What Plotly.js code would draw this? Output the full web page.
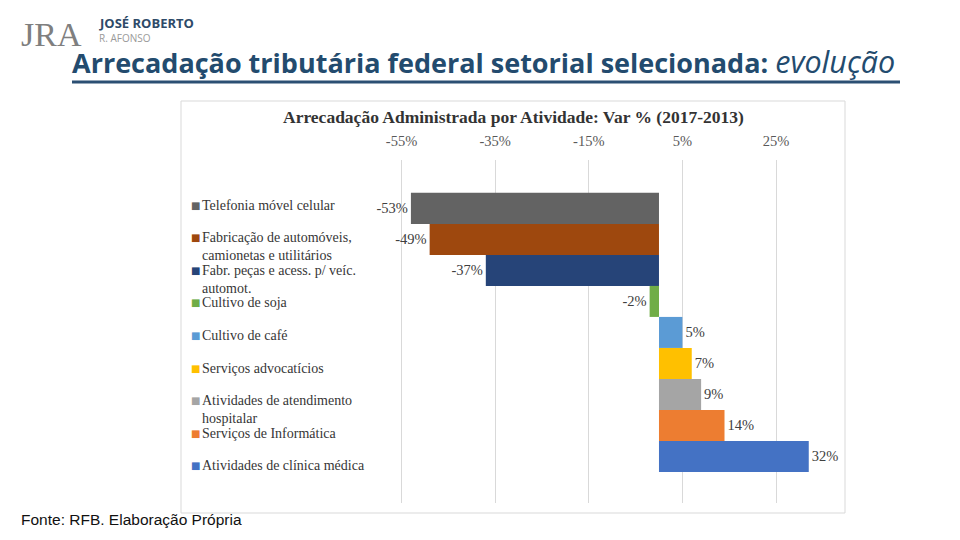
<!DOCTYPE html>
<html>
<head>
<meta charset="utf-8">
<script src="https://cdn.plot.ly/plotly-3.0.1.min.js"></script>
<style>html,body{margin:0;padding:0;background:#fff}#chart{width:960px;height:540px}</style>
</head>
<body>
<div id="chart"></div>
<script>
// ---- data ----
const categories = [
  "Telefonia móvel celular",
  "Fabricação de automóveis,<br>camionetas e utilitários",
  "Fabr. peças e acess. p/ veíc.<br>automot.",
  "Cultivo de soja",
  "Cultivo de café",
  "Serviços advocatícios",
  "Atividades de atendimento<br>hospitalar",
  "Serviços de Informática",
  "Atividades de clínica médica"
];
const values = [-53, -49, -37, -2, 5, 7, 9, 14, 32];
const colors = ["#636363", "#9e480e", "#264478", "#70ad47", "#5b9bd5", "#ffc000", "#a5a5a5", "#ed7d31", "#4472c4"];
const tickVals = [-55, -35, -15, 5, 25];
const slideTitle = 'Arrecadação tributária federal setorial selecionada: <span style="font-weight:normal;font-style:italic;font-size:30.5px">evolução</span>';
const chartTitle = "Arrecadação Administrada por Atividade: Var % (2017-2013)";
const sourceNote = "Fonte: RFB. Elaboração Própria";

// ---- helpers (page pixel -> paper) ----
const W = 960, H = 540;
const px = v => v / W, py = v => 1 - v / H;

const traces = categories.map((c, i) => ({
  type: "bar",
  orientation: "h",
  name: c,
  y: [i],
  x: [values[i]],
  width: 1,
  marker: {color: colors[i], line: {width: 0}},
  text: [values[i] + "%"],
  textposition: "outside",
  constraintext: "none",
  cliponaxis: false,
  textfont: {family: "Liberation Serif, serif", size: 14.5, color: "#404040"},
  hoverinfo: "skip",
  showlegend: false
}));

const annotations = [];
// legend (Excel-style: fixed spacing)
categories.forEach((c, i) => {
  const yc = 205 + 32.6 * i;
  annotations.push({
    xref: "paper", yref: "paper", x: px(189), y: py(yc), xanchor: "left", yanchor: "middle",
    text: "■", showarrow: false, font: {family: "DejaVu Sans", size: 10, color: colors[i]}
  });
  annotations.push({
    xref: "paper", yref: "paper", x: px(200), y: py(yc - 9.5), xanchor: "left", yanchor: "top",
    text: c, align: "left", showarrow: false,
    font: {family: "Liberation Serif, serif", size: 14, color: "#363636"}
  });
});
annotations.push({
  xref: "paper", yref: "paper", x: px(513), y: py(117), xanchor: "center", yanchor: "middle",
  text: "<b>" + chartTitle + "</b>", showarrow: false,
  font: {family: "Liberation Serif, serif", size: 17.5, color: "#333333"}
});
annotations.push({
  xref: "paper", yref: "paper", x: px(19), y: py(519), xanchor: "left", yanchor: "middle",
  text: sourceNote, showarrow: false,
  font: {family: "Liberation Sans, sans-serif", size: 15.5, color: "#111111"}
});
// logo
annotations.push({
  xref: "paper", yref: "paper", x: px(51), y: py(34), xanchor: "center", yanchor: "middle",
  text: "JRA", showarrow: false,
  font: {family: "Liberation Serif, serif", size: 34, color: "#7f7f7f"}
});
annotations.push({
  xref: "paper", yref: "paper", x: px(97), y: py(23), xanchor: "left", yanchor: "middle",
  text: "<b>JOSÉ ROBERTO</b>", showarrow: false,
  font: {family: "Open Sans, sans-serif", size: 13, color: "#2e4a68"}
});
annotations.push({
  xref: "paper", yref: "paper", x: px(97), y: py(38), xanchor: "left", yanchor: "middle",
  text: "R. AFONSO", showarrow: false,
  font: {family: "Open Sans, sans-serif", size: 10, color: "#9a9a9a"}
});

const layout = {
  width: W, height: H,
  margin: {l: 0, r: 0, t: 0, b: 0},
  paper_bgcolor: "#ffffff", plot_bgcolor: "rgba(0,0,0,0)",
  font: {family: "Liberation Serif, serif", color: "#404040"},
  title: {
    text: "<b>" + slideTitle + "</b>",
    x: px(72), xanchor: "left", xref: "paper",
    y: py(64), yanchor: "middle", yref: "paper",
    font: {family: "Open Sans, sans-serif", size: 27, color: "#234b6e"}
  },
  barmode: "overlay",
  showlegend: false,
  xaxis: {
    domain: [px(392.2), px(822.8)],
    range: [-57, 35],
    side: "top",
    tickmode: "array",
    tickvals: tickVals,
    ticktext: tickVals.map(v => v + "%"),
    ticks: "",
    ticklabelstandoff: 10,
    tickfont: {family: "Liberation Serif, serif", size: 14.5, color: "#595959"},
    showgrid: true, gridcolor: "#d9d9d9", gridwidth: 1,
    zeroline: false, showline: false, fixedrange: true
  },
  yaxis: {
    domain: [py(503), py(160)],
    range: [9.5, -1.56],
    showticklabels: false, ticks: "", showgrid: false, zeroline: false, showline: false, fixedrange: true
  },
  shapes: [
    {type: "rect", xref: "paper", yref: "paper", x0: px(181), x1: px(845), y0: py(513), y1: py(101),
     line: {color: "#d9d9d9", width: 1}, fillcolor: "rgba(0,0,0,0)", layer: "below"},
    {type: "line", xref: "paper", yref: "paper", x0: px(72), x1: px(900), y0: py(82), y1: py(82),
     line: {color: "#2b4f73", width: 3}}
  ],
  annotations: annotations
};

Plotly.newPlot("chart", traces, layout, {displayModeBar: false, staticPlot: true});
</script>
</body>
</html>
